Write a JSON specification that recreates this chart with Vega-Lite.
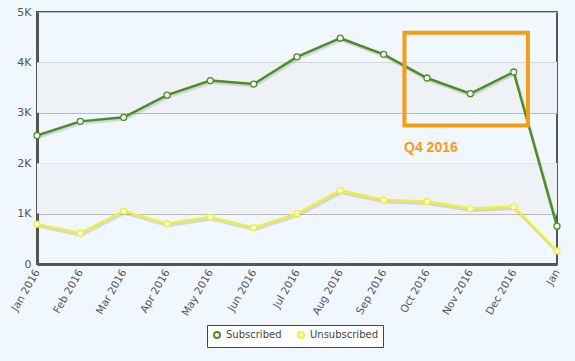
{
  "$schema": "https://vega.github.io/schema/vega-lite/v6.json",
  "width": 520,
  "height": 252,
  "autosize": {"type": "none"},
  "padding": {"left": 37, "top": 12, "right": 18, "bottom": 97},
  "background": "#f0f7ff",
  "config": {
    "view": {"stroke": "#555555", "strokeWidth": 2},
    "font": "DejaVu Sans",
    "axis": {"labelColor": "#555555", "labelFont": "DejaVu Sans", "labelFontSize": 11, "ticks": false, "title": null, "domainColor": "#555555", "domainWidth": 3}
  },
  "datasets": {
    "series": [
      {"i": 0, "month": "Jan 2016", "series": "Subscribed", "value": 2550},
      {"i": 1, "month": "Feb 2016", "series": "Subscribed", "value": 2830},
      {"i": 2, "month": "Mar 2016", "series": "Subscribed", "value": 2910},
      {"i": 3, "month": "Apr 2016", "series": "Subscribed", "value": 3350},
      {"i": 4, "month": "May 2016", "series": "Subscribed", "value": 3640},
      {"i": 5, "month": "Jun 2016", "series": "Subscribed", "value": 3570},
      {"i": 6, "month": "Jul 2016", "series": "Subscribed", "value": 4110},
      {"i": 7, "month": "Aug 2016", "series": "Subscribed", "value": 4480},
      {"i": 8, "month": "Sep 2016", "series": "Subscribed", "value": 4160},
      {"i": 9, "month": "Oct 2016", "series": "Subscribed", "value": 3690},
      {"i": 10, "month": "Nov 2016", "series": "Subscribed", "value": 3380},
      {"i": 11, "month": "Dec 2016", "series": "Subscribed", "value": 3810},
      {"i": 12, "month": "Jan", "series": "Subscribed", "value": 750},
      {"i": 0, "month": "Jan 2016", "series": "Unsubscribed", "value": 790},
      {"i": 1, "month": "Feb 2016", "series": "Unsubscribed", "value": 610},
      {"i": 2, "month": "Mar 2016", "series": "Unsubscribed", "value": 1050},
      {"i": 3, "month": "Apr 2016", "series": "Unsubscribed", "value": 800},
      {"i": 4, "month": "May 2016", "series": "Unsubscribed", "value": 930},
      {"i": 5, "month": "Jun 2016", "series": "Unsubscribed", "value": 720},
      {"i": 6, "month": "Jul 2016", "series": "Unsubscribed", "value": 1000},
      {"i": 7, "month": "Aug 2016", "series": "Unsubscribed", "value": 1460},
      {"i": 8, "month": "Sep 2016", "series": "Unsubscribed", "value": 1270},
      {"i": 9, "month": "Oct 2016", "series": "Unsubscribed", "value": 1240},
      {"i": 10, "month": "Nov 2016", "series": "Unsubscribed", "value": 1100},
      {"i": 11, "month": "Dec 2016", "series": "Unsubscribed", "value": 1140},
      {"i": 12, "month": "Jan", "series": "Unsubscribed", "value": 260}
    ],
    "bands": [
      {"lo": 1000, "hi": 2000},
      {"lo": 3000, "hi": 4000}
    ],
    "box": [
      {"x": 8.48, "x2": 11.33, "y": 4590, "y2": 2750, "label": "Q4 2016", "tx": 8.47, "ty": 2300}
    ]
  },
  "layer": [
    {
      "data": {"name": "bands"},
      "mark": {"type": "rect", "color": "#eef2f6"},
      "encoding": {
        "y": {"field": "lo", "type": "quantitative", "scale": {"domain": [0, 5000]}},
        "y2": {"field": "hi"}
      }
    },
    {
      "data": {"name": "series"},
      "mark": {"type": "line", "color": "#000000", "opacity": 0.12, "strokeWidth": 3, "yOffset": 2, "xOffset": 1},
      "encoding": {
        "x": {"field": "i", "type": "quantitative"},
        "y": {"field": "value", "type": "quantitative"},
        "detail": {"field": "series"}
      }
    },
    {
      "data": {"name": "series"},
      "mark": {"type": "line", "strokeWidth": 2.5},
      "encoding": {
        "x": {
          "field": "i", "type": "quantitative",
          "scale": {"domain": [0, 12], "nice": false, "zero": false},
          "axis": {
            "values": [0,1,2,3,4,5,6,7,8,9,10,11,12],
            "labelExpr": "['Jan 2016','Feb 2016','Mar 2016','Apr 2016','May 2016','Jun 2016','Jul 2016','Aug 2016','Sep 2016','Oct 2016','Nov 2016','Dec 2016','Jan'][datum.value]",
            "labelAngle": -60, "labelAlign": "right", "labelBaseline": "middle", "labelPadding": 6, "labelFontSize": 10.5, "grid": false, "labelFlush": false, "labelOverlap": false
          }
        },
        "y": {
          "field": "value", "type": "quantitative",
          "scale": {"domain": [0, 5000], "nice": false},
          "axis": {
            "values": [0, 1000, 2000, 3000, 4000, 5000],
            "labelExpr": "datum.value == 0 ? '0' : (datum.value / 1000) + 'K'",
            "grid": true, "gridColor": "#bbbbbb", "gridWidth": 1, "labelPadding": 6
          }
        },
        "color": {
          "field": "series", "type": "nominal",
          "scale": {"domain": ["Subscribed", "Unsubscribed"], "range": ["#4a8e26", "#eeee3c"]},
          "legend": {
            "title": null, "orient": "none", "legendX": 170, "legendY": 313, "direction": "horizontal",
            "symbolType": "circle", "symbolFillColor": "#ffffff", "symbolStrokeWidth": 2, "symbolSize": 36,
            "labelFont": "DejaVu Sans", "labelFontSize": 10, "labelColor": "#444444",
            "strokeColor": "#444444", "fillColor": "#ffffff", "padding": 5, "columnPadding": 12
          }
        }
      }
    },
    {
      "data": {"name": "series"},
      "mark": {"type": "point", "filled": true, "size": 36, "strokeWidth": 1.3},
      "encoding": {
        "x": {"field": "i", "type": "quantitative"},
        "y": {"field": "value", "type": "quantitative"},
        "stroke": {"field": "series", "type": "nominal", "scale": {"domain": ["Subscribed", "Unsubscribed"], "range": ["#4a8e26", "#eeee3c"]}, "legend": null},
        "fill": {"field": "series", "type": "nominal", "scale": {"domain": ["Subscribed", "Unsubscribed"], "range": ["#ffffff", "#ffffd0"]}, "legend": null},
        "opacity": {"value": 1}
      }
    },
    {
      "data": {"name": "box"},
      "mark": {"type": "rect", "fill": null, "fillOpacity": 0, "stroke": "#f59c16", "strokeWidth": 4},
      "encoding": {
        "x": {"field": "x", "type": "quantitative"},
        "x2": {"field": "x2"},
        "y": {"field": "y", "type": "quantitative"},
        "y2": {"field": "y2"}
      }
    },
    {
      "data": {"name": "box"},
      "mark": {"type": "text", "color": "#f59c16", "font": "Liberation Sans", "fontWeight": "bold", "fontSize": 14, "align": "left", "baseline": "middle"},
      "encoding": {
        "x": {"field": "tx", "type": "quantitative"},
        "y": {"field": "ty", "type": "quantitative"},
        "text": {"field": "label"}
      }
    }
  ]
}
